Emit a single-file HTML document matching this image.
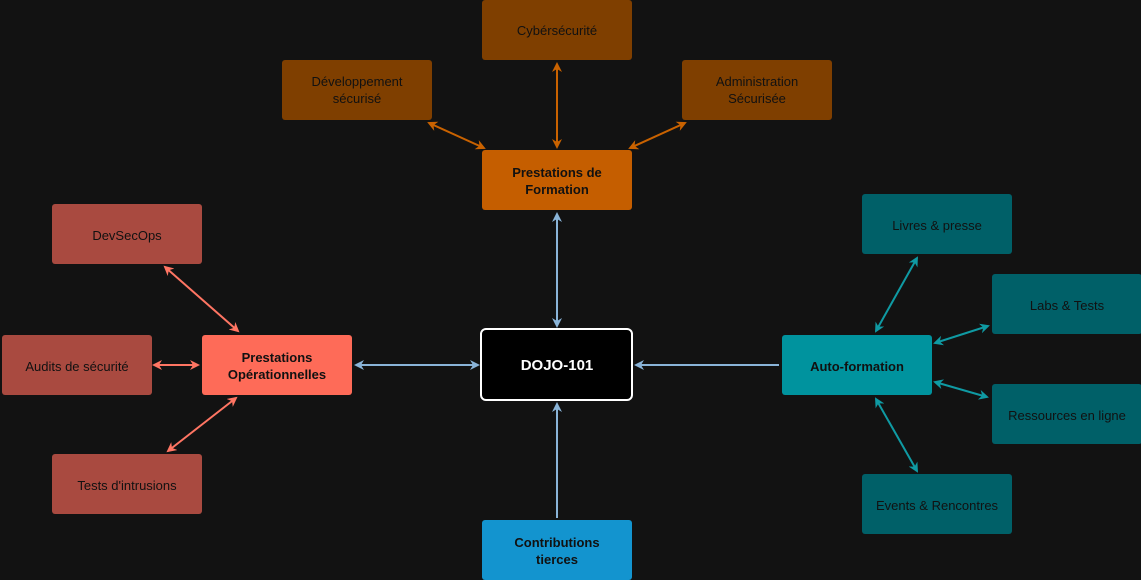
<!DOCTYPE html>
<html><head><meta charset="utf-8"><style>
html,body{margin:0;padding:0;background:#121212;}
svg{display:block;}
text{font-family:"Liberation Sans",sans-serif;font-size:13px;text-anchor:middle;fill:#111;}
.b{font-weight:bold;}
</style></head><body>
<svg width="1141" height="580" viewBox="0 0 1141 580">
<defs>
<marker id="mo" markerWidth="10" markerHeight="10" refX="8" refY="5" orient="auto-start-reverse" markerUnits="userSpaceOnUse"><path d="M0,0 L10,5 L0,10 L3,5 Z" fill="#c96200"/></marker>
<marker id="mb" markerWidth="10" markerHeight="10" refX="8" refY="5" orient="auto-start-reverse" markerUnits="userSpaceOnUse"><path d="M0,0 L10,5 L0,10 L3,5 Z" fill="#8ab4d8"/></marker>
<marker id="mr" markerWidth="10" markerHeight="10" refX="8" refY="5" orient="auto-start-reverse" markerUnits="userSpaceOnUse"><path d="M0,0 L10,5 L0,10 L3,5 Z" fill="#ff7563"/></marker>
<marker id="mt" markerWidth="10" markerHeight="10" refX="8" refY="5" orient="auto-start-reverse" markerUnits="userSpaceOnUse"><path d="M0,0 L10,5 L0,10 L3,5 Z" fill="#0f9aa3"/></marker>
</defs>
<g stroke-width="2" fill="none">
<line x1="557" y1="64" x2="557" y2="147" stroke="#c96200" marker-start="url(#mo)" marker-end="url(#mo)"/>
<line x1="429" y1="123" x2="484" y2="148" stroke="#c96200" marker-start="url(#mo)" marker-end="url(#mo)"/>
<line x1="685" y1="123" x2="630" y2="148" stroke="#c96200" marker-start="url(#mo)" marker-end="url(#mo)"/>
<line x1="557" y1="214" x2="557" y2="326" stroke="#8ab4d8" marker-start="url(#mb)" marker-end="url(#mb)"/>
<line x1="356" y1="365" x2="478" y2="365" stroke="#8ab4d8" marker-start="url(#mb)" marker-end="url(#mb)"/>
<line x1="779" y1="365" x2="636" y2="365" stroke="#8ab4d8" marker-end="url(#mb)"/>
<line x1="557" y1="518" x2="557" y2="404" stroke="#8ab4d8" marker-end="url(#mb)"/>
<line x1="165" y1="267" x2="238" y2="331" stroke="#ff7563" marker-start="url(#mr)" marker-end="url(#mr)"/>
<line x1="154" y1="365" x2="198" y2="365" stroke="#ff7563" marker-start="url(#mr)" marker-end="url(#mr)"/>
<line x1="168" y1="451" x2="236" y2="398" stroke="#ff7563" marker-start="url(#mr)" marker-end="url(#mr)"/>
<line x1="876" y1="331" x2="917" y2="258" stroke="#0f9aa3" marker-start="url(#mt)" marker-end="url(#mt)"/>
<line x1="935" y1="343" x2="988" y2="326" stroke="#0f9aa3" marker-start="url(#mt)" marker-end="url(#mt)"/>
<line x1="935" y1="382" x2="987" y2="397" stroke="#0f9aa3" marker-start="url(#mt)" marker-end="url(#mt)"/>
<line x1="876" y1="399" x2="917" y2="471" stroke="#0f9aa3" marker-start="url(#mt)" marker-end="url(#mt)"/>
</g>
<g>
<rect x="482" y="0" width="150" height="60" rx="3" fill="#7f3f00"/><text x="557" y="35">Cybérsécurité</text>
<rect x="282" y="60" width="150" height="60" rx="3" fill="#7f3f00"/><text x="357" y="86">Développement</text><text x="357" y="103">sécurisé</text>
<rect x="682" y="60" width="150" height="60" rx="3" fill="#7f3f00"/><text x="757" y="86">Administration</text><text x="757" y="103">Sécurisée</text>
<rect x="482" y="150" width="150" height="60" rx="3" fill="#c55e00"/><text class="b" x="557" y="177">Prestations de</text><text class="b" x="557" y="194">Formation</text>
<rect x="481" y="329" width="151" height="71" rx="5" fill="#000" stroke="#fff" stroke-width="2"/><text class="b" x="557" y="370" style="fill:#fff;font-size:15px">DOJO-101</text>
<rect x="482" y="520" width="150" height="60" rx="3" fill="#1394cf"/><text class="b" x="557" y="547">Contributions</text><text class="b" x="557" y="564">tierces</text>
<rect x="202" y="335" width="150" height="60" rx="3" fill="#fe6b58"/><text class="b" x="277" y="362">Prestations</text><text class="b" x="277" y="379">Opérationnelles</text>
<rect x="52" y="204" width="150" height="60" rx="3" fill="#a94a40"/><text x="127" y="240">DevSecOps</text>
<rect x="2" y="335" width="150" height="60" rx="3" fill="#a94a40"/><text x="77" y="371">Audits de sécurité</text>
<rect x="52" y="454" width="150" height="60" rx="3" fill="#a94a40"/><text x="127" y="490">Tests d'intrusions</text>
<rect x="782" y="335" width="150" height="60" rx="3" fill="#00939e"/><text class="b" x="857" y="371">Auto-formation</text>
<rect x="862" y="194" width="150" height="60" rx="3" fill="#006068"/><text x="937" y="230">Livres &amp; presse</text>
<rect x="992" y="274" width="150" height="60" rx="3" fill="#006068"/><text x="1067" y="310">Labs &amp; Tests</text>
<rect x="992" y="384" width="150" height="60" rx="3" fill="#006068"/><text x="1067" y="420">Ressources en ligne</text>
<rect x="862" y="474" width="150" height="60" rx="3" fill="#006068"/><text x="937" y="510">Events &amp; Rencontres</text>
</g>
</svg>
</body></html>
